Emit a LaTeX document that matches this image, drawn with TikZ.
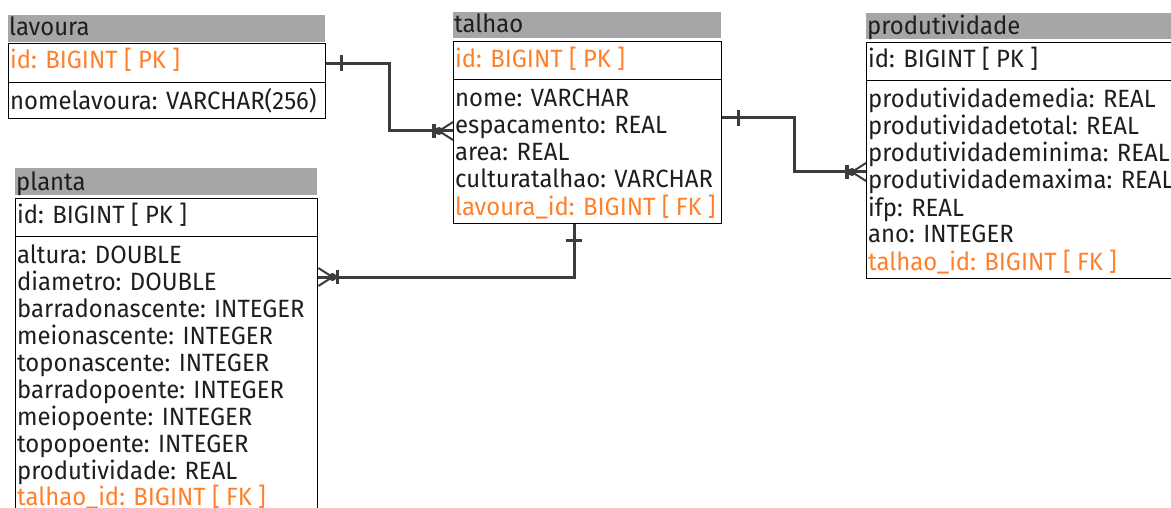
\documentclass[tikz,border=0pt]{standalone}
\usepackage{fontspec}
\setmainfont{Fira Sans}[FakeStretch=0.955]
\usetikzlibrary{calc}
\definecolor{hdrgray}{HTML}{A6A6A6}
\definecolor{keyorange}{HTML}{FF7F2A}
\definecolor{linkgray}{HTML}{3C3C3C}
\definecolor{ink}{HTML}{1E1E1E}
\newcommand\erfont{\fontsize{25}{27}\selectfont}

\tikzset{
  hdr/.style={draw=none, fill=hdrgray, inner sep=0, anchor=north west},
  tbox/.style={draw=black, line width=1.4pt, inner sep=0, anchor=north west},
  fld/.style={anchor=base west, inner sep=0, font=\erfont, text=ink},
  keyfld/.style={fld, text=keyorange},
  conn/.style={draw=linkgray, line width=3pt},
  onemark/.pic={\draw[conn, line width=2.4pt] (0,-8) -- (0,8);},
  manymark/.pic={
    \draw[conn, line width=2pt] (-14,0) -- (0,-9) (-14,0) -- (0,0) (-14,0) -- (0,9);
    \draw[conn, line width=3.5pt] (-19,-7) -- (-19,7);
    \fill[linkgray] (-14,0) circle (4);
  }
}

\begin{document}
\begin{tikzpicture}[x=1pt, y=-1pt]
\useasboundingbox (0,0) rectangle (1171,508);
\clip (0,0) rectangle (1171,508);

% ---- lavoura
\node[hdr, minimum width=317, minimum height=27] (lavhdr) at (8,15) {};
\node[fld] (lavname) at (9,36) {lavoura};
\node[tbox, minimum width=317, minimum height=39] (lavpk) at (8,43) {};
\node[keyfld] (lavid) at (10,69) {id: BIGINT [ PK ]};
\node[tbox, minimum width=317, minimum height=36] (lavattr) at (8,82) {};
\node[fld] (lavnome) at (10,110) {nomelavoura: VARCHAR(256)};

% ---- talhao
\node[hdr, minimum width=268, minimum height=26] (talhdr) at (453,12) {};
\node[fld] (talname) at (454,33) {talhao};
\node[tbox, minimum width=268, minimum height=38] (talpk) at (453,41) {};
\node[keyfld] (talid) at (455,68) {id: BIGINT [ PK ]};
\node[tbox, minimum width=268, minimum height=144] (talattr) at (453,79) {};
\node[fld] (tal1) at (455,107) {nome: VARCHAR};
\node[fld] (tal2) at (455,134) {espacamento: REAL};
\node[fld] (tal3) at (455,161) {area: REAL};
\node[fld] (tal4) at (455,188) {culturatalhao: VARCHAR};
\node[keyfld] (tal5) at (455,215) {lavoura\_id: BIGINT [ FK ]};

% ---- produtividade
\node[hdr, minimum width=330, minimum height=26] (prodhdr) at (866,13) {};
\node[fld] (prodname) at (867,35) {produtividade};
\node[tbox, minimum width=330, minimum height=38] (prodpk) at (866,42) {};
\node[fld] (prodid) at (868,68) {id: BIGINT [ PK ]};
\node[tbox, minimum width=330, minimum height=198] (prodattr) at (866,80) {};
\node[fld] (prod1) at (868,108) {produtividademedia: REAL};
\node[fld] (prod2) at (868,135) {produtividadetotal: REAL};
\node[fld] (prod3) at (868,162) {produtividademinima: REAL};
\node[fld] (prod4) at (868,189) {produtividademaxima: REAL};
\node[fld] (prod5) at (868,216) {ifp: REAL};
\node[fld] (prod6) at (868,243) {ano: INTEGER};
\node[keyfld] (prod7) at (868,270) {talhao\_id: BIGINT [ FK ]};

% ---- planta
\node[hdr, minimum width=302, minimum height=27] (planhdr) at (15,168) {};
\node[fld] (planname) at (16,190) {planta};
\node[tbox, minimum width=302, minimum height=38] (planpk) at (15,198) {};
\node[fld] (planid) at (17,223) {id: BIGINT [ PK ]};
\node[tbox, minimum width=302, minimum height=300] (planattr) at (15,236) {};
\node[fld] (plan1) at (17,263) {altura: DOUBLE};
\node[fld] (plan2) at (17,290) {diametro: DOUBLE};
\node[fld] (plan3) at (17,317) {barradonascente: INTEGER};
\node[fld] (plan4) at (17,344) {meionascente: INTEGER};
\node[fld] (plan5) at (17,371) {toponascente: INTEGER};
\node[fld] (plan6) at (17,398) {barradopoente: INTEGER};
\node[fld] (plan7) at (17,425) {meiopoente: INTEGER};
\node[fld] (plan8) at (17,452) {topopoente: INTEGER};
\node[fld] (plan9) at (17,479) {produtividade: REAL};
\node[keyfld] (plan10) at (17,505) {talhao\_id: BIGINT [ FK ]};

% ---- relationships
\coordinate (lavend) at ($(talattr.north west)+(0,52)$);
\draw[conn] (lavpk.east) -| ($(lavpk.east)+(63,0)$) |- (lavend);
\pic at ($(lavpk.east)+(15,0)$) {onemark};
\pic at (lavend) {manymark};

\coordinate (talout) at ($(talattr.north east)+(0,39)$);
\coordinate (prodend) at ($(prodattr.north west)+(0,92)$);
\draw[conn] (talout) -- ($(talout)+(72,0)$) |- (prodend);
\pic at ($(talout)+(16,0)$) {onemark};
\pic at (prodend) {manymark};

\coordinate (talbot) at ($(talattr.south west)+(121,0)$);
\coordinate (planend) at ($(planattr.north east)+(0,41)$);
\draw[conn] (talbot) |- (planend);
\pic[rotate=90] at ($(talbot)+(0,16)$) {onemark};
\pic[rotate=180] at (planend) {manymark};
\end{tikzpicture}
\end{document}
